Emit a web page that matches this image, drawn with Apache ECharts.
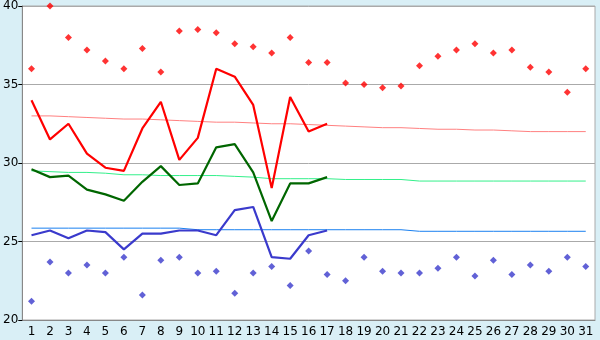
<!DOCTYPE html>
<html>
<head>
<meta charset="utf-8">
<script src="https://cdn.jsdelivr.net/npm/echarts@6/dist/echarts.min.js"></script>
<style>
  html, body { margin: 0; padding: 0; background: #d9eff6; }
  #chart { width: 600px; height: 340px; }
</style>
</head>
<body>
<div id="chart"></div>
<script>
  const days = Array.from({ length: 31 }, (_, i) => String(i + 1));

  // observed daily values (days 1-17)
  const maxTemp = [34.0, 31.5, 32.5, 30.6, 29.7, 29.5, 32.2, 33.9, 30.2, 31.6, 36.0, 35.5, 33.7, 28.4, 34.2, 32.0, 32.5];
  const avgTemp = [29.6, 29.1, 29.2, 28.3, 28.0, 27.6, 28.8, 29.8, 28.6, 28.7, 31.0, 31.2, 29.4, 26.3, 28.7, 28.7, 29.1];
  const minTemp = [25.4, 25.7, 25.2, 25.7, 25.6, 24.5, 25.5, 25.5, 25.7, 25.7, 25.4, 27.0, 27.2, 24.0, 23.9, 25.4, 25.7];

  // normals
  const normalMax = [33.0, 33.0, 32.95, 32.9, 32.85, 32.8, 32.8, 32.75, 32.7, 32.65, 32.6, 32.6, 32.55, 32.5, 32.5, 32.45,
    32.4, 32.35, 32.3, 32.25, 32.25, 32.2, 32.15, 32.15, 32.1, 32.1, 32.05, 32.0, 32.0, 32.0, 32.0];
  const normalAvg = [29.5, 29.45, 29.4, 29.4, 29.35, 29.25, 29.25, 29.2, 29.2, 29.2, 29.2, 29.15, 29.1, 29.0, 29.0, 29.0,
    29.0, 28.95, 28.95, 28.95, 28.95, 28.85, 28.85, 28.85, 28.85, 28.85, 28.85, 28.85, 28.85, 28.85, 28.85];
  const normalMin = [25.85, 25.85, 25.85, 25.85, 25.85, 25.85, 25.85, 25.85, 25.85, 25.75, 25.75, 25.75, 25.75, 25.75, 25.75, 25.75,
    25.75, 25.75, 25.75, 25.75, 25.75, 25.65, 25.65, 25.65, 25.65, 25.65, 25.65, 25.65, 25.65, 25.65, 25.65];

  // records
  const recordHigh = [36.0, 40.0, 38.0, 37.2, 36.5, 36.0, 37.3, 35.8, 38.4, 38.5, 38.3, 37.6, 37.4, 37.0, 38.0, 36.4,
    36.4, 35.1, 35.0, 34.8, 34.9, 36.2, 36.8, 37.2, 37.6, 37.0, 37.2, 36.1, 35.8, 34.5, 36.0];
  const recordLow = [21.2, 23.7, 23.0, 23.5, 23.0, 24.0, 21.6, 23.8, 24.0, 23.0, 23.1, 21.7, 23.0, 23.4, 22.2, 24.4,
    22.9, 22.5, 24.0, 23.1, 23.0, 23.0, 23.3, 24.0, 22.8, 23.8, 22.9, 23.5, 23.1, 24.0, 23.4];

  const yTicks = [20, 25, 30, 35, 40];

  function thinLine(data, color) {
    return {
      type: "line", data, symbol: "none", silent: true,
      lineStyle: { color, width: 1 }, z: 2
    };
  }

  function mainLine(data, color) {
    return {
      type: "line", data, symbol: "none",
      lineStyle: { color, width: 2.2 }, z: 4
    };
  }

  function dots(data, color) {
    return {
      type: "scatter", data, symbol: "diamond", symbolSize: 7,
      itemStyle: { color }, z: 5
    };
  }

  const chart = echarts.init(document.getElementById("chart"), null, { renderer: "canvas" });
  chart.setOption({
    animation: false,
    backgroundColor: "#d9eff6",
    textStyle: { fontFamily: "DejaVu Sans" },
    grid: {
      left: 20, right: 5, top: 5, bottom: 20,
      show: true, backgroundColor: "#ffffff", borderColor: "#aaaaaa", borderWidth: 1
    },
    xAxis: {
      type: "category",
      data: days,
      boundaryGap: true,
      axisLine: { lineStyle: { color: "#888888" } },
      axisTick: { alignWithLabel: true, length: 5, lineStyle: { color: "#000000" } },
      axisLabel: { color: "#000000", fontSize: 12, margin: 6, interval: 0 },
      splitLine: { show: false }
    },
    yAxis: {
      type: "value",
      min: yTicks[0], max: yTicks[yTicks.length - 1], interval: 5,
      axisLine: { show: true, lineStyle: { color: "#888888" } },
      axisTick: { show: true, length: 4, lineStyle: { color: "#000000" } },
      axisLabel: { color: "#000000", fontSize: 12, margin: 4 },
      splitLine: { lineStyle: { color: "#aaaaaa", width: 1 } }
    },
    series: [
      thinLine(normalMax, "#ff8080"),
      thinLine(normalAvg, "#33f08a"),
      thinLine(normalMin, "#1a80f0"),
      mainLine(maxTemp, "#ff0000"),
      mainLine(avgTemp, "#006600"),
      mainLine(minTemp, "#3a3acc"),
      dots(recordHigh, "#ff0000"),
      dots(recordLow, "#3a3acc")
    ]
  });
</script>
</body>
</html>
